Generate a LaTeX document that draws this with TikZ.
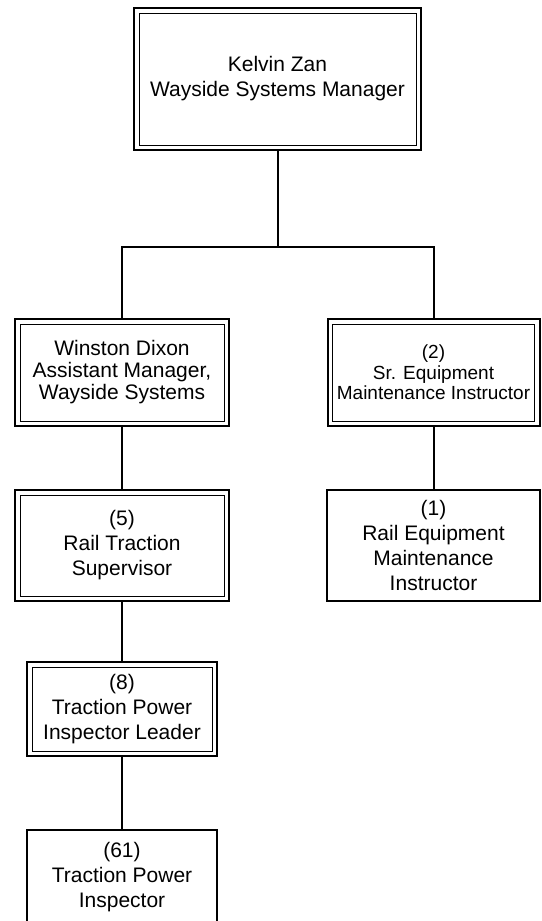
\documentclass[tikz,border=0pt]{standalone}
\usepackage{fontspec}
\setmainfont{Liberation Sans}

\begin{document}
\begin{tikzpicture}[x=0.75pt, y=-0.75pt,
  box/.style={draw, line width=1.5pt, outer sep=0pt, inner sep=2pt,
              align=center, anchor=center,
              font=\fontsize{15.75}{18.75}\selectfont},
  dbox/.style={box, path picture={
      \draw[line width=0.75pt]
        ([shift={(3.75pt,-3.75pt)}]path picture bounding box.north west)
        rectangle
        ([shift={(-3.75pt,3.75pt)}]path picture bounding box.south east);}},
  small/.style={font=\fontsize{14.25}{15.5}\selectfont},
  tight/.style={font=\fontsize{15.75}{16.5}\selectfont},
  link/.style={line width=1.5pt}]
\clip (0,0) rectangle (542,921);
\node[dbox, minimum width=215.25pt, minimum height=106.5pt] (mgr) at (277.5,79)
  {Kelvin Zan\\Wayside Systems Manager};
\node[dbox, tight, minimum width=160.5pt, minimum height=80.25pt] (asst) at (122,372.5)
  {Winston Dixon\\Assistant Manager,\\Wayside Systems};
\node[dbox, small, minimum width=159pt, minimum height=80.25pt] (sreq) at (433.5,372.5)
  {(2)\\Sr. Equipment\\Maintenance Instructor};
\node[dbox, minimum width=160.5pt, minimum height=83.25pt] (sup) at (122,545.5)
  {(5)\\Rail Traction\\Supervisor};
\node[box, minimum width=159.75pt, minimum height=83.25pt] (reqi) at (433.5,545.5)
  {(1)\\Rail Equipment\\Maintenance\\Instructor};
\node[dbox, minimum width=142.5pt, minimum height=70.5pt] (lead) at (122,709)
  {(8)\\Traction Power\\Inspector Leader};
\node[box, minimum width=142.5pt, minimum height=70.5pt] (insp) at (122,877)
  {(61)\\Traction Power\\Inspector};
\coordinate (fork) at (277.5,247);
\draw[link] (mgr.south) -- (fork);
\draw[link] (asst.north) |- (fork) -| (sreq.north);
\draw[link] (asst.south) -- (sup.north);
\draw[link] (sup.south) -- (lead.north);
\draw[link] (lead.south) -- (insp.north);
\draw[link] (sreq.south) -- (reqi.north);
\end{tikzpicture}
\end{document}
